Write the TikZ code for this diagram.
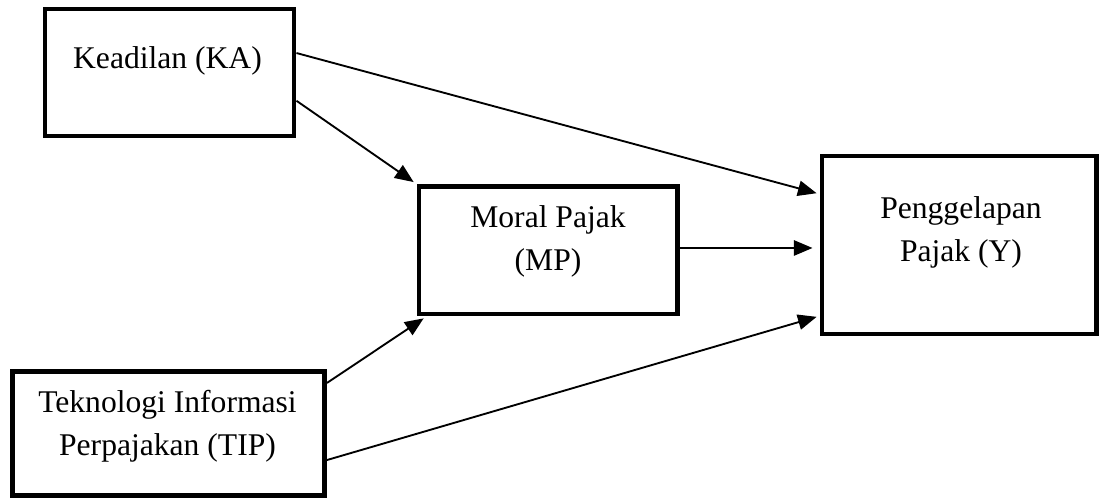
\documentclass[tikz,border=0pt]{standalone}
\usepackage{fontspec}
\setmainfont{Liberation Serif}
\usetikzlibrary{arrows.meta}
\begin{document}
\begin{tikzpicture}[x=0.75pt,y=-0.75pt,
  box/.style={draw, line width=3.7pt, inner sep=0pt},
  txt/.style={font=\fontsize{23.7pt}{32.3pt}\selectfont, align=center, inner sep=0pt, anchor=base},
  conn/.style={line width=1.4pt, -{Triangle[length=14pt,width=11.5pt]}}]
\useasboundingbox (0,0) rectangle (1100,499);
% boxes
\node[box, minimum width=186.75pt, minimum height=95.25pt] (KA) at (169.5,72.5) {};
\node[box, minimum width=193.9pt, minimum height=95.6pt] (MP) at (548.25,250.25) {};
\node[box, minimum width=205.9pt, minimum height=133.5pt] (Y) at (959.25,245) {};
\node[box, minimum width=234pt, minimum height=93pt] (TIP) at (168.5,433.5) {};
% texts (multi-line nodes are anchored at the baseline of their last line)
\node[txt] (tKA) at (167.5,69) {Keadilan (KA)};
\node[txt] (tMP) at (548,270.5) {Moral Pajak\\(MP)};
\node[txt] (tY) at (961,261.7) {Penggelapan\\Pajak (Y)};
\node[txt] (tTIP) at (167.5,455.5) {Teknologi Informasi\\Perpajakan (TIP)};
% connectors
\draw[conn, shorten >=2.25pt] ([yshift=14.6pt]KA.east) -- ([yshift=38.25pt]Y.west);
\draw[conn, shorten >=2.6pt] ([yshift=-21.2pt]KA.east) -- (MP.north west);
\draw[conn, shorten >=2.6pt] ([yshift=37.9pt]TIP.east) -- ([xshift=7.5pt]MP.south west);
\draw[conn, shorten >=2.25pt] ([yshift=-19.9pt]TIP.east) -- ([yshift=-53.25pt]Y.west);
\draw[conn, shorten >=5.25pt] ([yshift=1.7pt]MP.east) -- ([yshift=1.7pt]MP.east -| Y.west);
\end{tikzpicture}
\end{document}
